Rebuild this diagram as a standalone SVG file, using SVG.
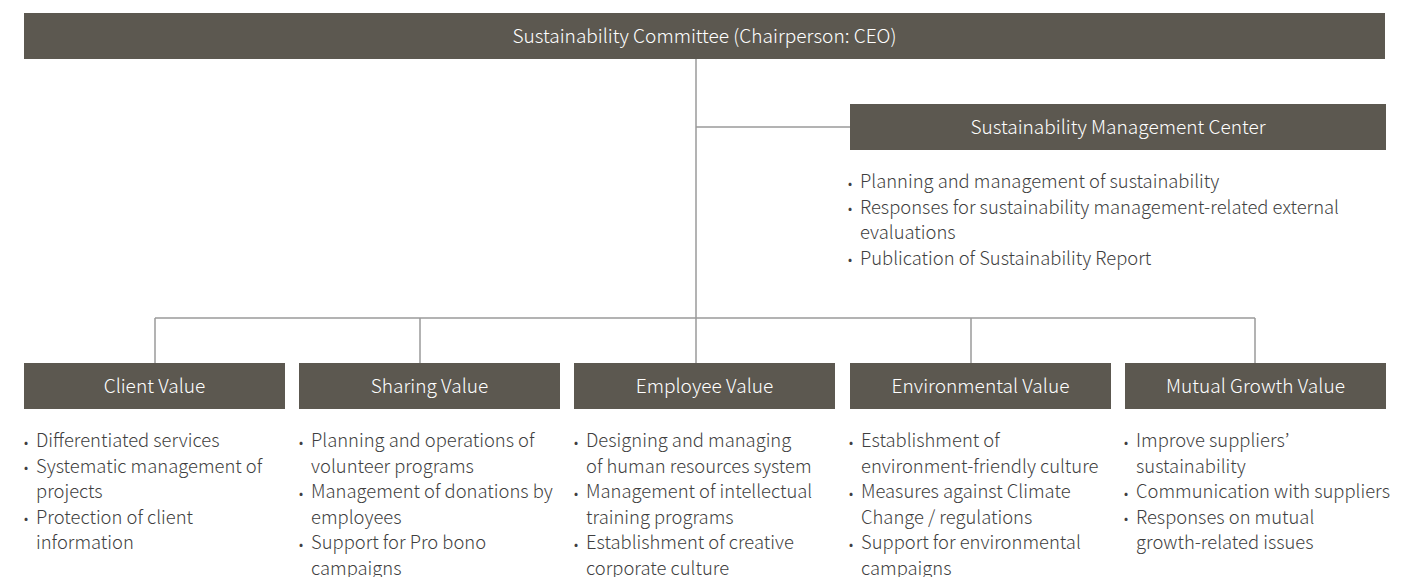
<svg xmlns="http://www.w3.org/2000/svg" width="1418" height="577" viewBox="0 0 1418 577">
<style>
.box{fill:#5c5850;}
.hd{font-family:"Noto Sans CJK KR","Noto Sans",sans-serif;font-size:19.1px;font-weight:300;fill:#ffffff;text-anchor:middle;}
.tx{font-family:"Noto Sans CJK KR","Noto Sans",sans-serif;font-size:18.4px;font-weight:300;fill:#3f3f3f;}
.b{font-size:12px;font-weight:400;}
.ln{stroke:#9a9a9a;stroke-width:1.5;fill:none;}
</style>
<rect width="1418" height="577" fill="#ffffff"/>
<g id="connectors">
<path class="ln" d="M696 59 V318"/>
<path class="ln" d="M696 127 H850"/>
<path class="ln" d="M155 318 H1255"/>
<path class="ln" d="M155 318 V363 M420 318 V363 M696 318 V363 M971 318 V363 M1255 318 V363"/>
</g>
<g id="committee">
<rect class="box" x="24" y="13" width="1361" height="46"/>
<text class="hd" x="704.5" y="42.5">Sustainability Committee (Chairperson: CEO)</text>
</g>
<g id="smc">
<rect class="box" x="850" y="104" width="536" height="46"/>
<text class="hd" x="1118" y="133.5">Sustainability Management Center</text>
<text class="tx"><tspan class="b" x="848" y="187.5">•</tspan><tspan x="860" y="188">Planning and management of sustainability</tspan><tspan class="b" x="848" y="213">•</tspan><tspan x="860" y="213.5">Responses for sustainability management-related external</tspan><tspan x="860" y="239">evaluations</tspan><tspan class="b" x="848" y="264">•</tspan><tspan x="860" y="264.5">Publication of Sustainability Report</tspan></text>
</g>
<g id="client">
<rect class="box" x="24" y="363" width="261" height="46"/>
<text class="hd" x="154.5" y="392.5">Client Value</text>
<text class="tx"><tspan class="b" x="24" y="446.5">•</tspan><tspan x="36" y="447">Differentiated services</tspan><tspan class="b" x="24" y="472">•</tspan><tspan x="36" y="472.5">Systematic management of</tspan><tspan x="36" y="498">projects</tspan><tspan class="b" x="24" y="523">•</tspan><tspan x="36" y="523.5">Protection of client</tspan><tspan x="36" y="549">information</tspan></text>
</g>
<g id="sharing">
<rect class="box" x="299" y="363" width="261" height="46"/>
<text class="hd" x="429.5" y="392.5">Sharing Value</text>
<text class="tx"><tspan class="b" x="299" y="446.5">•</tspan><tspan x="311" y="447">Planning and operations of</tspan><tspan x="311" y="472.5">volunteer programs</tspan><tspan class="b" x="299" y="497.5">•</tspan><tspan x="311" y="498">Management of donations by</tspan><tspan x="311" y="523.5">employees</tspan><tspan class="b" x="299" y="548.5">•</tspan><tspan x="311" y="549">Support for Pro bono</tspan><tspan x="311" y="574.5">campaigns</tspan></text>
</g>
<g id="employee">
<rect class="box" x="574" y="363" width="261" height="46"/>
<text class="hd" x="704.5" y="392.5">Employee Value</text>
<text class="tx"><tspan class="b" x="574" y="446.5">•</tspan><tspan x="586" y="447">Designing and managing</tspan><tspan x="586" y="472.5">of human resources system</tspan><tspan class="b" x="574" y="497.5">•</tspan><tspan x="586" y="498">Management of intellectual</tspan><tspan x="586" y="523.5">training programs</tspan><tspan class="b" x="574" y="548.5">•</tspan><tspan x="586" y="549">Establishment of creative</tspan><tspan x="586" y="574.5">corporate culture</tspan></text>
</g>
<g id="environmental">
<rect class="box" x="850" y="363" width="261" height="46"/>
<text class="hd" x="980.5" y="392.5">Environmental Value</text>
<text class="tx"><tspan class="b" x="849" y="446.5">•</tspan><tspan x="861" y="447">Establishment of</tspan><tspan x="861" y="472.5">environment-friendly culture</tspan><tspan class="b" x="849" y="497.5">•</tspan><tspan x="861" y="498">Measures against Climate</tspan><tspan x="861" y="523.5">Change / regulations</tspan><tspan class="b" x="849" y="548.5">•</tspan><tspan x="861" y="549">Support for environmental</tspan><tspan x="861" y="574.5">campaigns</tspan></text>
</g>
<g id="mutual">
<rect class="box" x="1125" y="363" width="261" height="46"/>
<text class="hd" x="1255.5" y="392.5">Mutual Growth Value</text>
<text class="tx"><tspan class="b" x="1124" y="446.5">•</tspan><tspan x="1136" y="447">Improve suppliers’</tspan><tspan x="1136" y="472.5">sustainability</tspan><tspan class="b" x="1124" y="497.5">•</tspan><tspan x="1136" y="498">Communication with suppliers</tspan><tspan class="b" x="1124" y="523">•</tspan><tspan x="1136" y="523.5">Responses on mutual</tspan><tspan x="1136" y="549">growth-related issues</tspan></text>
</g>
</svg>
